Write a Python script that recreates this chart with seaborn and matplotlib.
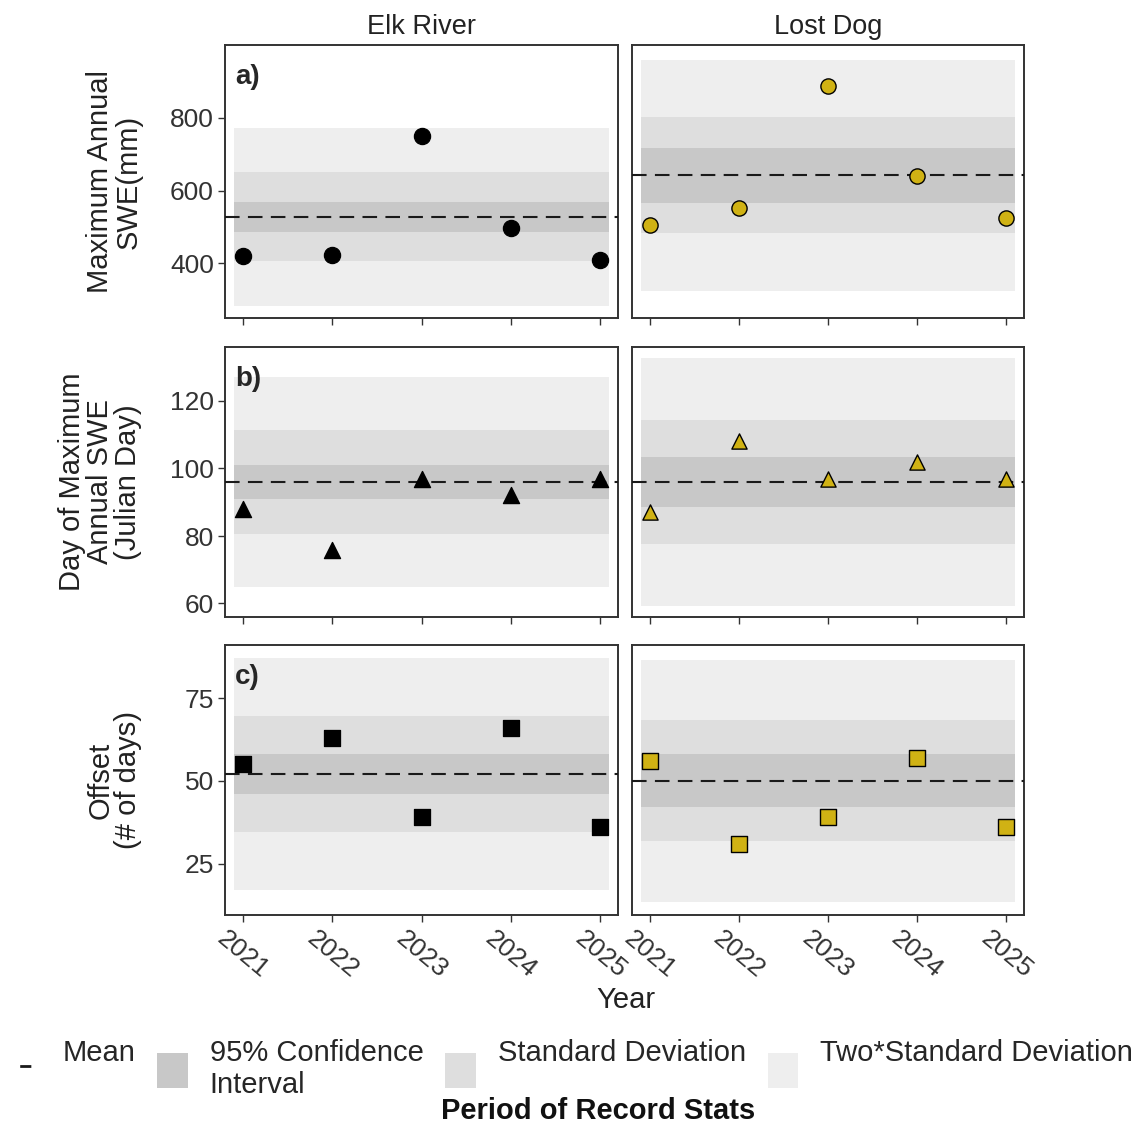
import numpy as np
import pandas as pd
import matplotlib
matplotlib.use("Agg")
import matplotlib.pyplot as plt
from matplotlib.lines import Line2D
from matplotlib.patches import Patch
import seaborn as sns

sns.set_theme(style="white")
plt.rcParams['font.family'] = ['Liberation Sans', 'DejaVu Sans']

# ---------------- data ----------------
years = [2021, 2022, 2023, 2024, 2025]
sites = ["Elk River", "Lost Dog"]

elk_swe = [420, 422, 750, 497, 410]
lost_swe = [505, 553, 888, 640, 525]
elk_day = [88, 76, 97, 92, 97]
lost_day = [87, 108, 97, 102, 97]
elk_offset = [55, 63, 39, 66, 36]
lost_offset = [56, 31, 39, 57, 36]

# period of record stats: mean, 95% CI half-width, standard deviation
elk_swe_stats = [528, 42, 122]
lost_swe_stats = [642, 75, 159]
elk_day_stats = [96, 5, 15.5]
lost_day_stats = [96, 7.5, 18.3]
elk_offset_stats = [52, 6, 17.5]
lost_offset_stats = [50, 8, 18.3]

row_labels = ["Maximum Annual\nSWE(mm)", "Day of Maximum\nAnnual SWE\n(Julian Day)", "Offset\n(# of days)"]
panel_tags = ["a)", "b)", "c)"]
ytick_sets = [[400, 600, 800], [60, 80, 100, 120], [25, 50, 75]]
ylims = [(250, 1000), (56, 136), (9.5, 91)]
markers = ["o", "^", "s"]
legend_labels = ["Mean", "95% Confidence\nInterval", "Standard Deviation", "Two*Standard Deviation"]

values = [[elk_swe, lost_swe], [elk_day, lost_day], [elk_offset, lost_offset]]
stats = [[elk_swe_stats, lost_swe_stats], [elk_day_stats, lost_day_stats],
         [elk_offset_stats, lost_offset_stats]]

# ---------------- style ----------------
FS_TICK = 19
FS_STRIP = 19.5
FS_TITLE = 21
FS_LEG = 21
gold = "#d0b214"
c_2sd = "#eeeeee"
c_sd = "#dedede"
c_ci = "#c8c8c8"
band_x = (2020.9, 2025.1)

fig = plt.figure(figsize=(11.43, 11.25), dpi=100)
W, H = 1143, 1125
col_x = [(225, 618), (632, 1024)]
row_y = [(45, 318), (347, 617), (645, 915)]

for r in range(3):
    for c in range(2):
        x0, x1 = col_x[c]
        y0, y1 = row_y[r]
        ax = fig.add_axes([x0 / W, 1 - y1 / H, (x1 - x0) / W, (y1 - y0) / H])
        m, ci, sd = stats[r][c]
        xs = np.linspace(band_x[0], band_x[1], 2)
        ax.fill_between(xs, m - 2 * sd, m + 2 * sd, color=c_2sd, lw=0, zorder=1)
        ax.fill_between(xs, m - sd, m + sd, color=c_sd, lw=0, zorder=2)
        ax.fill_between(xs, m - ci, m + ci, color=c_ci, lw=0, zorder=3)
        ax.axhline(m, color="#1a1a1a", lw=1.5, ls=(0, (7, 4)), zorder=4)

        df = pd.DataFrame({"Year": years, "val": values[r][c]})
        if c == 0:
            sns.scatterplot(data=df, x="Year", y="val", ax=ax, marker=markers[r],
                            color="black", edgecolor="black", s=135, zorder=5)
        else:
            sns.scatterplot(data=df, x="Year", y="val", ax=ax, marker=markers[r],
                            color=gold, edgecolor="black", linewidth=1.0, s=120, zorder=5)

        ax.set_xlim(2020.8, 2025.2)
        ax.set_ylim(*ylims[r])
        ax.set_xticks(years)
        ax.set_yticks(ytick_sets[r])
        ax.tick_params(axis="both", which="major", length=5, width=1, color="#333333",
                       labelsize=FS_TICK, pad=3, bottom=True, left=(c == 0), labelcolor="#333333")
        if r < 2:
            ax.set_xticklabels([])
        else:
            ax.set_xticklabels([str(y) for y in years], rotation=-40, ha="center",
                               va="top", rotation_mode="default")
        if c == 1:
            ax.set_yticklabels([])
        ax.set_xlabel("")
        if c == 0:
            ax.set_ylabel(row_labels[r], fontsize=FS_TITLE, color="#222222", linespacing=1.0)
            ax.yaxis.set_label_coords(-0.21, 0.5)
            ax.text(0.025, 0.93, panel_tags[r], transform=ax.transAxes, fontsize=20,
                    fontweight="bold", va="top", ha="left", zorder=6)
        else:
            ax.set_ylabel("")
        for sp in ax.spines.values():
            sp.set_visible(True)
            sp.set_color("#333333")
            sp.set_linewidth(1.4)
        ax.set_facecolor("white")
        if r == 0:
            ax.set_title(sites[c], fontsize=FS_STRIP, color="#222222", pad=8)

fig.text(626 / W, 1 - 1000 / H, "Year", fontsize=FS_TITLE, ha="center", va="center", color="#222222")

handles = [
    Line2D([0], [0], color="#1a1a1a", lw=2, ls=(20.5, (4, 20))),
    Patch(facecolor=c_ci, edgecolor="none"),
    Patch(facecolor=c_sd, edgecolor="none"),
    Patch(facecolor=c_2sd, edgecolor="none"),
]
leg = fig.legend(handles, legend_labels, loc="center", bbox_to_anchor=(0.5, 1 - 1069 / H),
                 ncol=4, frameon=False, fontsize=FS_LEG, handlelength=1.05, handleheight=1.5,
                 columnspacing=0.75, handletextpad=0.75, labelspacing=0.2)
# top-align single-line labels with the first line of the two-line label
for t in leg.get_texts():
    if "\n" not in t.get_text():
        t.set_va("top")
fig.canvas.draw()
ref = [t for t in leg.get_texts() if "\n" in t.get_text()][0]
rbb = ref.get_window_extent()
for t in leg.get_texts():
    if "\n" not in t.get_text():
        bb = t.get_window_extent()
        shift = rbb.y1 - bb.y1
        x, y = t.get_position()
        t.set_position((x, y + shift))
fig.text(598 / W, 1 - 1111 / H, "Period of Record Stats", fontsize=FS_LEG, ha="center",
         va="center", fontweight="bold", color="#111111")

fig.savefig("out.png", dpi=100)
